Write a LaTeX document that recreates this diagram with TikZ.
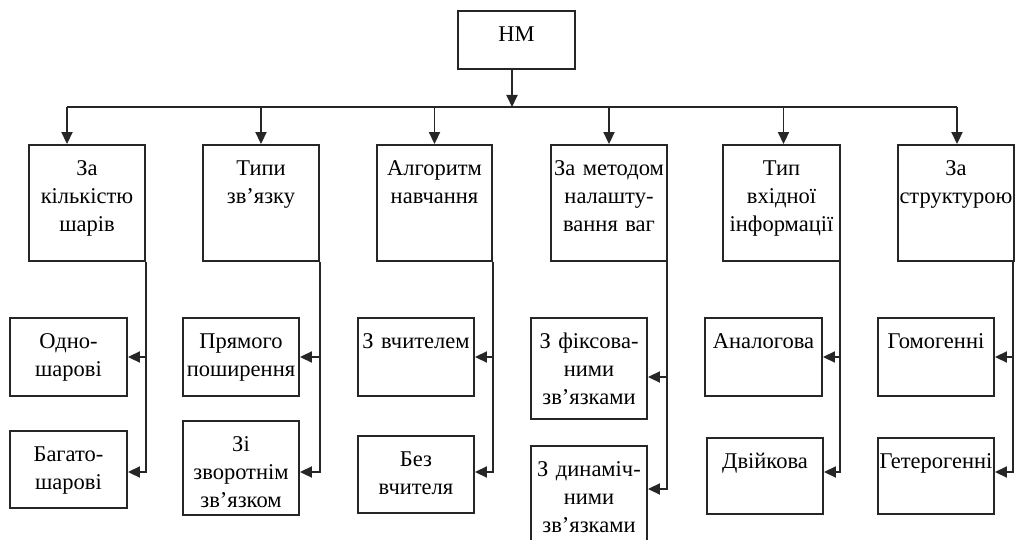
\documentclass[tikz,border=0pt]{standalone}
\usepackage{fontspec}
\setmainfont{Liberation Serif}
\usetikzlibrary{arrows.meta,calc}
\tikzset{
  box/.style={draw=black!85, line width=1.9pt, inner sep=0pt, rectangle},
  txt/.style={inner sep=0pt, anchor=base, align=center, font=\fontsize{22.5}{28}\selectfont},
  conn/.style={draw=black!85, line width=1.9pt},
  arr/.style={conn, -{Triangle[length=12pt,width=11pt]}, shorten >=0pt},
}
\newcommand\mybox[6]{%
  \node[box, minimum width={#4-#2}, minimum height={#5-#3}] (#1) at ({(#2+#4)/2},{(#3+#5)/2}) {};
  \node[txt, text width={#4-#2}] (#1t) at ([yshift=-31pt]#1.north) {#6};
}
\begin{document}
\begin{tikzpicture}[x=1pt,y=-1pt]
\useasboundingbox (0,0) rectangle (1016,540);
% root
\mybox{hm}{458}{11}{575}{69}{НМ}
% top level
\mybox{b1}{29}{145}{145}{261}{За\\кількістю\\шарів}
\mybox{b2}{203}{145}{319}{261}{Типи\\зв’язку}
\mybox{b3}{377}{145}{492}{261}{Алгоритм\\навчання}
\mybox{b4}{551}{145}{667}{261}{За методом\\налашту-\\вання ваг}
\mybox{b5}{723}{145}{840}{261}{Тип\\вхідної\\інформації}
\mybox{b6}{898}{145}{1014}{261}{За\\структурою}
% children
\mybox{c11}{10}{318}{127}{396}{Одно-\\шарові}
\mybox{c12}{10}{431}{127}{508}{Багато-\\шарові}
\mybox{c21}{183}{318}{299}{396}{Прямого\\поширення}
\mybox{c22}{183}{421}{299}{515}{Зі\\зворотнім\\зв’язком}
\mybox{c31}{358}{318}{474}{396}{З вчителем}
\mybox{c32}{358}{436}{474}{513}{Без\\вчителя}
\mybox{c41}{531}{318}{647}{419}{З фіксова-\\ними\\зв’язками}
\mybox{c42}{531}{446}{647}{547}{З динаміч-\\ними\\зв’язками}
\mybox{c51}{705}{318}{822}{396}{Аналогова}
\mybox{c52}{707}{438}{823}{514}{Двійкова}
\mybox{c61}{878}{318}{994}{396}{Гомогенні}
\mybox{c62}{878}{438}{994}{514}{Гетерогенні}
% bus
\coordinate (bus) at (512,107);
\coordinate (t1) at (67,107);
\coordinate (t6) at (957,107);
\draw[arr] (hm.south -| bus) -- (bus);
\draw[conn] (t1) -- (t6);
\draw[arr] (t1) -- (t1 |- b1.north);
\draw[arr] (b2.north |- bus) -- (b2.north);
\draw[arr] (b3.north |- bus) -- (b3.north);
\draw[arr] (b4.north |- bus) -- (b4.north);
\draw[arr] ([xshift=2pt]b5.north |- bus) -- ([xshift=2pt]b5.north);
\draw[arr] (t6) -- (t6 |- b6.north);
% side connectors
\draw[arr] (b1.south east) |- (c11.east);
\draw[arr] (b1.south east) |- ([yshift=-2.5pt]c12.east);
\draw[arr] (b2.south east) |- (c21.east);
\draw[arr] (b2.south east) |- ([yshift=-4pt]c22.east);
\draw[arr] (b3.south east) |- (c31.east);
\draw[arr] (b3.south east) |- ([yshift=2.5pt]c32.east);
\draw[arr] ([xshift=-1pt]b4.south east) |- ([yshift=-8.5pt]c41.east);
\draw[arr] ([xshift=-1pt]b4.south east) |- ([yshift=7.5pt]c42.east);
\draw[arr] ([xshift=-1pt]b5.south east) |- (c51.east);
\draw[arr] ([xshift=-1pt]b5.south east) |- ([yshift=4pt]c52.east);
\draw[arr] ([xshift=-2pt]b6.south east) |- (c61.east);
\draw[arr] ([xshift=-2pt]b6.south east) |- ([yshift=4pt]c62.east);
\end{tikzpicture}
\end{document}
